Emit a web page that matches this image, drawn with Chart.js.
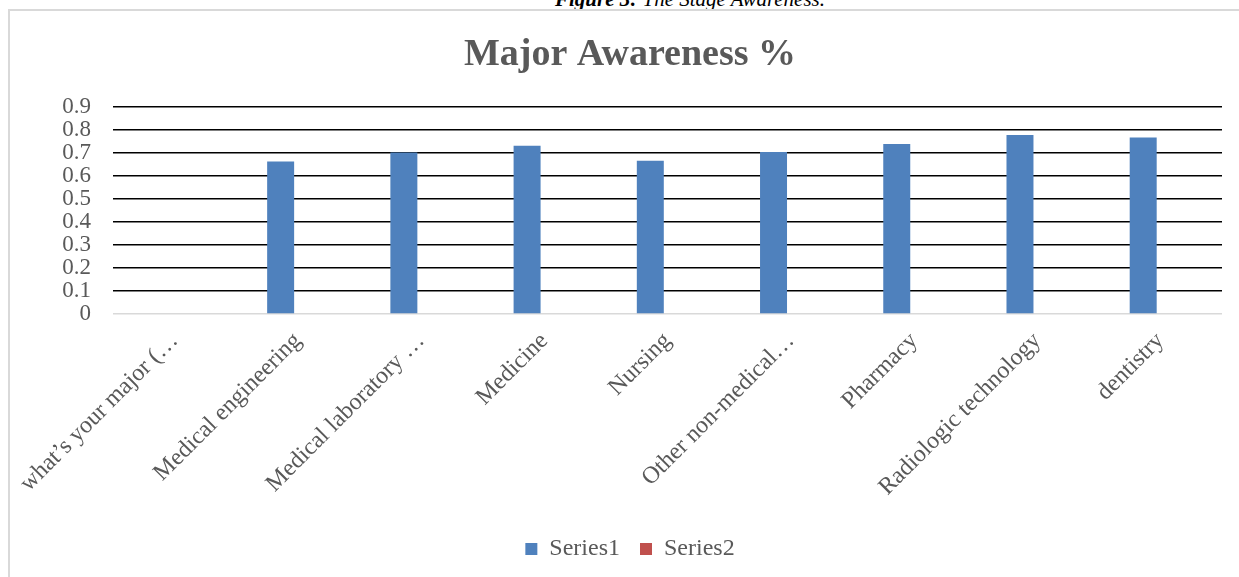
<!DOCTYPE html>
<html>
<head>
<meta charset="utf-8">
<script src="https://cdn.jsdelivr.net/npm/chart.js@4"></script>
<style>
  html, body { margin: 0; padding: 0; background: #fff; overflow: hidden; }
  body { width: 1239px; height: 577px; position: relative; }
  #caption {
    position: absolute; top: -12px; left: 0; width: 1380px; text-align: center;
    font: italic 21px "Liberation Serif", serif; line-height: 22px; color: #000;
    white-space: nowrap;
  }
  #caption b { font-weight: bold; }
  #frame {
    position: absolute; left: 8px; top: 9px; width: 1300px; height: 700px;
    border-left: 2px solid #d9d9d9; border-top: 2px solid #d9d9d9;
    pointer-events: none;
  }
  #wrap { position: absolute; left: 0; top: 0; width: 1239px; height: 577px; }
</style>
</head>
<body>
<div id="caption"><b>Figure 3:</b> The Stage Awareness.</div>
<div id="wrap"><canvas id="chart" width="1239" height="577"></canvas></div>
<div id="frame"></div>
<script>
// Majors surveyed
const categories = [
  "what\u2019s your major (\u2026",
  "Medical engineering",
  "Medical laboratory \u2026",
  "Medicine",
  "Nursing",
  "Other non-medical\u2026",
  "Pharmacy",
  "Radiologic technology",
  "dentistry"
];
// Share of students aware of their major (0-1)
const series1 = [null, 0.662, 0.701, 0.730, 0.665, 0.703, 0.738, 0.777, 0.766];
const series2 = [null, null, null, null, null, null, null, null, null];
const yTicks = [0, 0.1, 0.2, 0.3, 0.4, 0.5, 0.6, 0.7, 0.8, 0.9];

const SERIF = '"Liberation Serif", "Times New Roman", serif';
const GREY = '#595959';

new Chart(document.getElementById('chart'), {
  type: 'bar',
  data: {
    labels: categories,
    datasets: [
      { label: 'Series1', data: series1, backgroundColor: '#4f81bd', borderWidth: 0 },
      { label: 'Series2', data: series2, backgroundColor: '#c0504d', borderWidth: 0 }
    ]
  },
  options: {
    responsive: false,
    animation: false,
    events: [],
    layout: { padding: { left: 38, right: 17, top: 6, bottom: 6 } },
    datasets: { bar: { categoryPercentage: 0.558, barPercentage: 0.785 } },
    plugins: {
      tooltip: { enabled: false },
      title: {
        display: true,
        text: 'Major Awareness %',
        color: GREY,
        font: { family: SERIF, size: 38, weight: 'bold' },
        padding: { top: 26, bottom: 29 }
      },
      legend: {
        position: 'bottom',
        labels: {
          color: GREY,
          font: { family: SERIF, size: 24 },
          boxWidth: 12,
          boxHeight: 12,
          padding: 20
        }
      }
    },
    scales: {
      x: {
        grid: { display: false, drawTicks: false },
        border: { display: false },
        ticks: {
          color: GREY,
          font: { family: SERIF, size: 24 },
          minRotation: 45,
          maxRotation: 45,
          autoSkip: false,
          padding: 13
        },
        afterFit(scale) { scale.height = 203; }
      },
      y: {
        min: 0,
        max: 0.9,
        afterBuildTicks(scale) { scale.ticks = yTicks.map(v => ({ value: v })); },
        grid: {
          drawTicks: false,
          lineWidth: 1.6,
          color: ctx => (ctx.tick && ctx.tick.value === 0 ? '#d9d9d9' : '#000000')
        },
        border: { display: false },
        ticks: {
          color: GREY,
          font: { family: SERIF, size: 23 },
          padding: 22,
          autoSkip: false,
          callback: v => String(Math.round(v * 10) / 10)
        },
        afterFit(scale) { scale.width = 75; }
      }
    }
  }
});
</script>
</body>
</html>
